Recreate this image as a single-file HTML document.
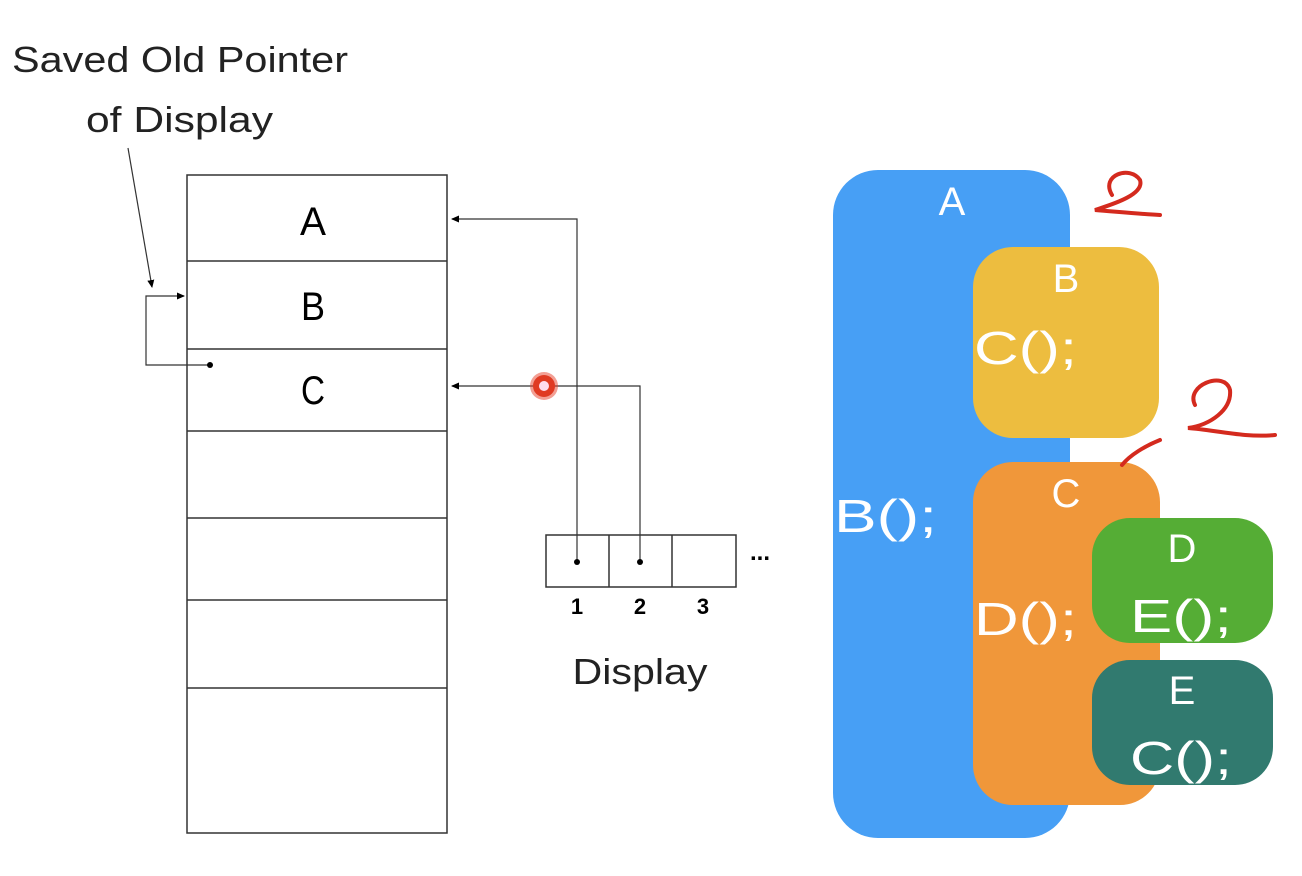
<!DOCTYPE html><html><head><style>body{margin:0;background:#fff}svg{display:block}</style></head><body>
<svg width="1302" height="876" xmlns="http://www.w3.org/2000/svg">
<defs><marker id="ar" markerWidth="8" markerHeight="8" refX="7" refY="4" orient="auto" markerUnits="userSpaceOnUse"><path d="M0,0.5 L8,4 L0,7.5z" fill="#000"/></marker></defs>
<g font-family="Liberation Sans, DejaVu Sans, sans-serif" fill="#222">
<text x="12" y="72" font-size="36" textLength="336" lengthAdjust="spacingAndGlyphs">Saved Old Pointer</text>
<text x="86" y="132" font-size="36" textLength="187" lengthAdjust="spacingAndGlyphs">of Display</text>
</g>
<g stroke="#333" stroke-width="1.5" fill="none">
<rect x="187" y="175" width="260" height="658"/>
<line x1="187" y1="261" x2="447" y2="261"/><line x1="187" y1="349" x2="447" y2="349"/>
<line x1="187" y1="431" x2="447" y2="431"/><line x1="187" y1="518" x2="447" y2="518"/>
<line x1="187" y1="600" x2="447" y2="600"/><line x1="187" y1="688" x2="447" y2="688"/>
<polyline points="577,562 577,219 452,219" marker-end="url(#ar)" stroke-width="1.2"/>
<polyline points="640,562 640,386 452,386" marker-end="url(#ar)" stroke-width="1.2"/>
<polyline points="210,365 146,365 146,296 184,296" marker-end="url(#ar)" stroke-width="1.2"/>
<line x1="128" y1="148" x2="152" y2="287" marker-end="url(#ar)" stroke-width="1.2"/>
<rect x="546" y="535" width="190" height="52"/>
<line x1="609" y1="535" x2="609" y2="587"/><line x1="672" y1="535" x2="672" y2="587"/>
</g>
<circle cx="210" cy="365" r="3" fill="#000"/><circle cx="577" cy="562" r="3" fill="#000"/><circle cx="640" cy="562" r="3" fill="#000"/>
<g font-family="Liberation Sans, sans-serif" fill="#000" text-anchor="middle">
<text x="313" y="235" font-size="40" textLength="26" lengthAdjust="spacingAndGlyphs">A</text><text x="313" y="320" font-size="40" textLength="24" lengthAdjust="spacingAndGlyphs">B</text><text x="313" y="404" font-size="40" textLength="24" lengthAdjust="spacingAndGlyphs">C</text>
<text x="577" y="614" font-size="22" font-weight="bold">1</text><text x="640" y="614" font-size="22" font-weight="bold">2</text><text x="703" y="614" font-size="22" font-weight="bold">3</text>
<text x="760" y="560" font-size="24" font-weight="bold">...</text>
<text x="640" y="684" font-size="36" fill="#222" textLength="135" lengthAdjust="spacingAndGlyphs">Display</text>
</g>
<circle cx="544" cy="386" r="14" fill="#e8402a" opacity="0.5"/><circle cx="544" cy="386" r="11" fill="#e03a22"/><circle cx="544" cy="386" r="5" fill="#fde"/>
<rect x="833" y="170" width="237" height="668" rx="45" fill="#479ff5"/>
<rect x="973" y="247" width="186" height="191" rx="40" fill="#edbd3f"/>
<rect x="973" y="462" width="187" height="343" rx="40" fill="#f0973a"/>
<rect x="1092" y="518" width="181" height="125" rx="38" fill="#55ad35"/>
<rect x="1092" y="660" width="181" height="125" rx="38" fill="#317a6f"/>
<g font-family="Liberation Sans, sans-serif" fill="#fff" font-size="40">
<text x="952" y="215" text-anchor="middle">A</text>
<text x="1066" y="292" text-anchor="middle">B</text>
<text x="1066" y="507" text-anchor="middle">C</text>
<text x="1182" y="562" text-anchor="middle">D</text>
<text x="1182" y="704" text-anchor="middle">E</text>
</g>
<g font-family="Liberation Sans, sans-serif" fill="#fff" font-size="46">
<text x="974" y="364" textLength="103" lengthAdjust="spacingAndGlyphs">C();</text>
<text x="834" y="532" textLength="103" lengthAdjust="spacingAndGlyphs">B();</text>
<text x="974" y="635" textLength="103" lengthAdjust="spacingAndGlyphs">D();</text>
<text x="1130" y="632" textLength="102" lengthAdjust="spacingAndGlyphs">E();</text>
<text x="1130" y="774" textLength="102" lengthAdjust="spacingAndGlyphs">C();</text>
</g>
<g stroke="#d42a1e" stroke-width="4" fill="none" stroke-linecap="round">
<path d="M1112,195 C1100,175 1130,165 1140,180 C1145,195 1110,205 1095,210 C1120,212 1140,214 1160,215"/>
<path d="M1195,405 C1185,385 1225,370 1230,390 C1232,410 1210,425 1188,428 C1215,430 1245,438 1275,435"/>
<path d="M1160,440 C1145,446 1130,455 1122,465"/>
</g>
</svg></body></html>
